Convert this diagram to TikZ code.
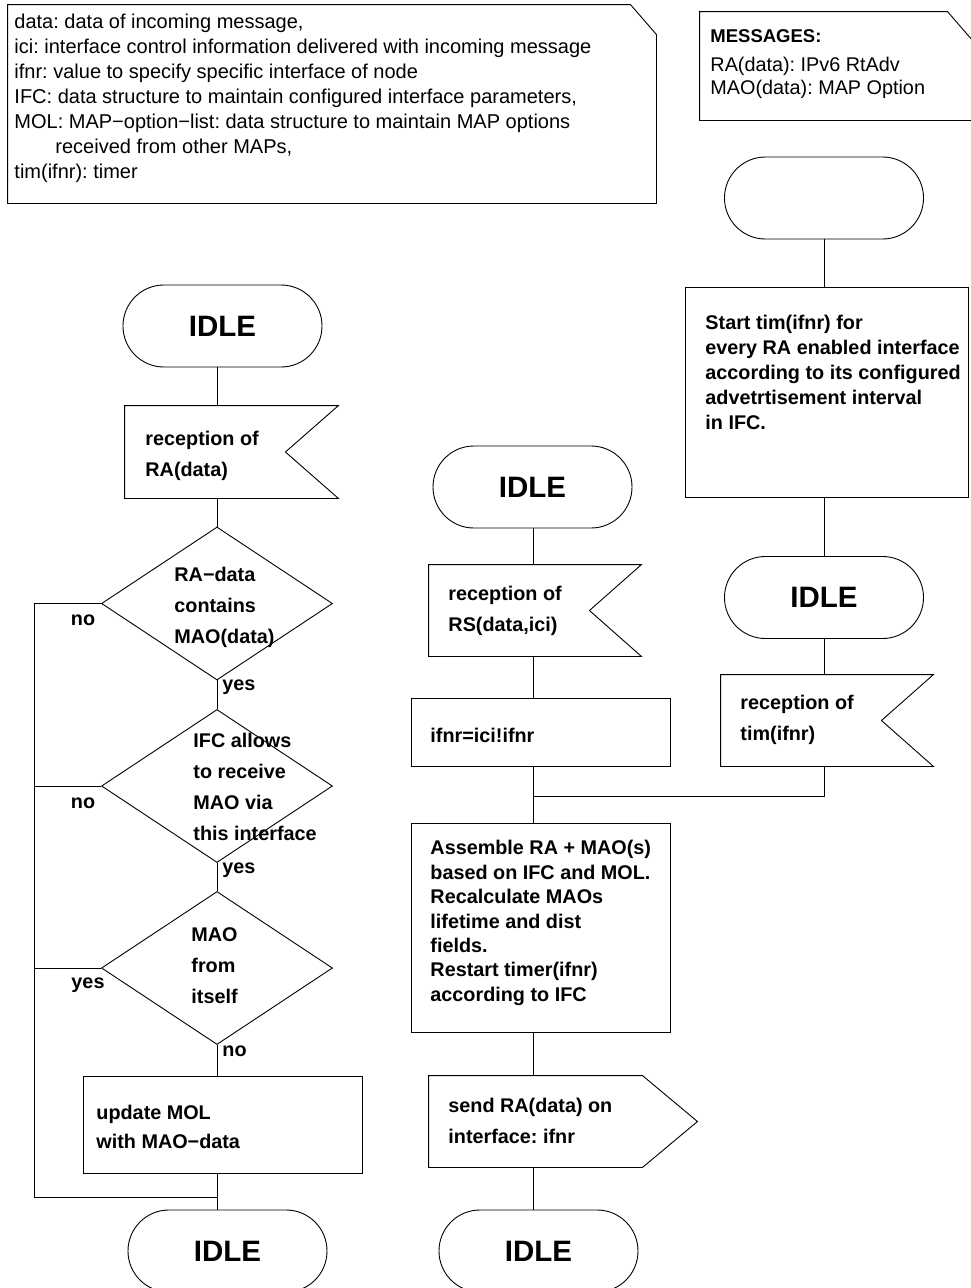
\documentclass[tikz,border=0pt]{standalone}
\usepackage{fontspec}
\setmainfont{Liberation Sans}
\usetikzlibrary{shapes.geometric}
\begin{document}
\frenchspacing
\begin{tikzpicture}[x=1pt,y=-1pt, line width=0.9pt,
  term/.style={draw, rounded corners=40.9pt, minimum width=199pt, minimum height=82pt, inner sep=0pt, font=\fontsize{29.5}{34}\selectfont\bfseries},
  area/.style={inner sep=0pt},
  boxed/.style={draw, inner sep=0pt},
  dec/.style={diamond, draw, minimum width=231pt, minimum height=153pt, inner sep=0pt},
  txt/.style={anchor=west, align=left, inner sep=0pt, font=\fontsize{19.8}{31}\selectfont\bfseries},
  lbl/.style={inner sep=0pt, font=\fontsize{19.8}{23}\selectfont\bfseries},
  note/.style={anchor=north west, align=left, inner sep=0pt, font=\fontsize{20}{25}\selectfont}
]
\useasboundingbox (0,0) rectangle (970,1288);

% ---------- legend boxes ----------
\node[area, minimum width=648pt, minimum height=198pt] (legend) at (332,104) {};
\draw (legend.south west) -- (legend.north west) -- ([xshift=-26pt]legend.north east)
  -- ([yshift=-30pt]legend.north east) -- (legend.south east) -- cycle;
\node[note] (legtext) at (14,14) {data: data of incoming message,\\
ici: interface control information delivered with incoming message\\
ifnr: value to specify specific interface of node\\
IFC: data structure to maintain configured interface parameters,\\
MOL: MAP−option−list: data structure to maintain MAP options\\
\hspace*{41pt}received from other MAPs,\\
tim(ifnr): timer};

\node[area, minimum width=273pt, minimum height=108pt] (msg) at (836.5,66) {};
\draw (msg.north east |- msg.south) -- (msg.south west) -- (msg.north west) -- ([xshift=-26pt]msg.north east)
  -- ([yshift=-30pt]msg.north east);
\node[lbl, anchor=west, font=\fontsize{18.5}{22}\selectfont\bfseries] (msghead) at (710,36) {MESSAGES:};
\node[note, anchor=west, font=\fontsize{19.8}{23}\selectfont] (msgtext) at (710,78) {RA(data): IPv6 RtAdv\\MAO(data): MAP Option};

% ---------- left column ----------
\node[term] (idleA) at (222.5,326) {IDLE};
\node[area, minimum width=213pt, minimum height=92pt] (rRA) at (231.5,452) {};
\draw (rRA.north west) -- (rRA.north east) -- ([xshift=-53pt]rRA.east) -- (rRA.south east) -- (rRA.south west) -- cycle;
\node[txt] (rRAt) at (145,456) {reception of\\RA(data)};

\node[dec] (d1) at (217,603.5) {};
\node[txt] (d1t) at (174,607) {RA−data\\contains\\MAO(data)};
\node[dec] (d2) at (217,786) {};
\node[txt] (d2t) at (193,787) {IFC allows\\to receive\\MAO via\\this interface};
\node[dec] (d3) at (217,968) {};
\node[txt] (d3t) at (191,966) {MAO\\from\\itself};

\node[lbl] (no1) at (83,620) {no};
\node[lbl, anchor=west] (yes1) at (222,687) {yes};
\node[lbl] (no2) at (83,803) {no};
\node[lbl, anchor=west] (yes2) at (222,870) {yes};
\node[lbl] (yes3) at (88,985) {yes};
\node[lbl, anchor=west] (no3) at (222,1051) {no};

\node[boxed, minimum width=279pt, minimum height=97pt] (upd) at (222.5,1124.5) {};
\node[txt, font=\fontsize{19.8}{29}\selectfont\bfseries] (updt) at (96,1127) {update MOL\\with MAO−data};
\node[term] (idleB) at (227.5,1251) {IDLE};

\coordinate (lx) at (34,0);
\coordinate (jl) at (217,1197);

\draw (d1.north |- idleA.south) -- (d1.north |- rRA.north);
\draw (d1.north |- rRA.south) -- (d1.north);
\draw (d1.south) -- (d2.north);
\draw (d2.south) -- (d3.north);
\draw (d3.south) -- (d3.south |- upd.north);
\draw (d3.south |- upd.south) -- (d3.south |- idleB.north);
\draw (d1.west) -- (d1.west -| lx) -- (lx |- jl) -- (jl);
\draw (d2.west) -- (d2.west -| lx);
\draw (d3.west) -- (d3.west -| lx);

% ---------- middle column ----------
\coordinate (cm) at (533,0);
\node[term] (idleM) at (532.5,487) {IDLE};
\node[area, minimum width=212pt, minimum height=91pt] (rRS) at (535,610.5) {};
\draw (rRS.north west) -- (rRS.north east) -- ([xshift=-52pt]rRS.east) -- (rRS.south east) -- (rRS.south west) -- cycle;
\node[txt] (rRSt) at (448,611) {reception of\\RS(data,ici)};
\node[boxed, minimum width=259pt, minimum height=68pt] (ifnr) at (540.5,732) {};
\node[txt] (ifnrt) at (430,735) {ifnr=ici!ifnr};
\coordinate (jn) at (533,796);
\node[boxed, minimum width=259pt, minimum height=209pt] (asm) at (540.5,927.5) {};
\node[txt, font=\fontsize{19.8}{24.4}\selectfont\bfseries] (asmt) at (430,923) {Assemble RA + MAO(s)\\based on IFC and MOL.\\Recalculate MAOs\\lifetime and dist\\fields.\\Restart timer(ifnr)\\according to IFC};
\node[area, minimum width=213pt, minimum height=91pt] (send) at (535.5,1121.5) {};
\draw (send.north west) -- (send.north east) -- ([xshift=55pt]send.east) -- (send.south east) -- (send.south west) -- cycle;
\node[txt] (sendt) at (448,1121) {send RA(data) on\\interface: ifnr};
\node[term] (idleN) at (538.5,1251) {IDLE};

\draw (cm |- idleM.south) -- (cm |- rRS.north);
\draw (cm |- rRS.south) -- (cm |- ifnr.north);
\draw (cm |- ifnr.south) -- (cm |- asm.north);
\draw (cm |- asm.south) -- (cm |- send.north);
\draw (cm |- send.south) -- (cm |- idleN.north);

% ---------- right column ----------
\node[term] (start) at (824,198) {};
\node[boxed, minimum width=283pt, minimum height=210pt] (tbox) at (826.5,392) {};
\node[txt, font=\fontsize{19.8}{25}\selectfont\bfseries] (tboxt) at (705,372) {Start tim(ifnr) for\\every RA enabled interface\\according to its configured\\advetrtisement interval\\in IFC.};
\node[term] (idleR) at (824,597.5) {IDLE};
\node[area, minimum width=212pt, minimum height=91pt] (rTim) at (827,720.5) {};
\draw (rTim.north west) -- (rTim.north east) -- ([xshift=-52pt]rTim.east) -- (rTim.south east) -- (rTim.south west) -- cycle;
\node[txt] (rTimt) at (740,720) {reception of\\tim(ifnr)};

\draw (start.south) -- (start.south |- tbox.north);
\draw (start.south |- tbox.south) -- (idleR.north);
\draw (idleR.south) -- (idleR.south |- rTim.north);
\draw (idleR.south |- rTim.south) -- (idleR.south |- jn) -- (jn);
\end{tikzpicture}
\end{document}
